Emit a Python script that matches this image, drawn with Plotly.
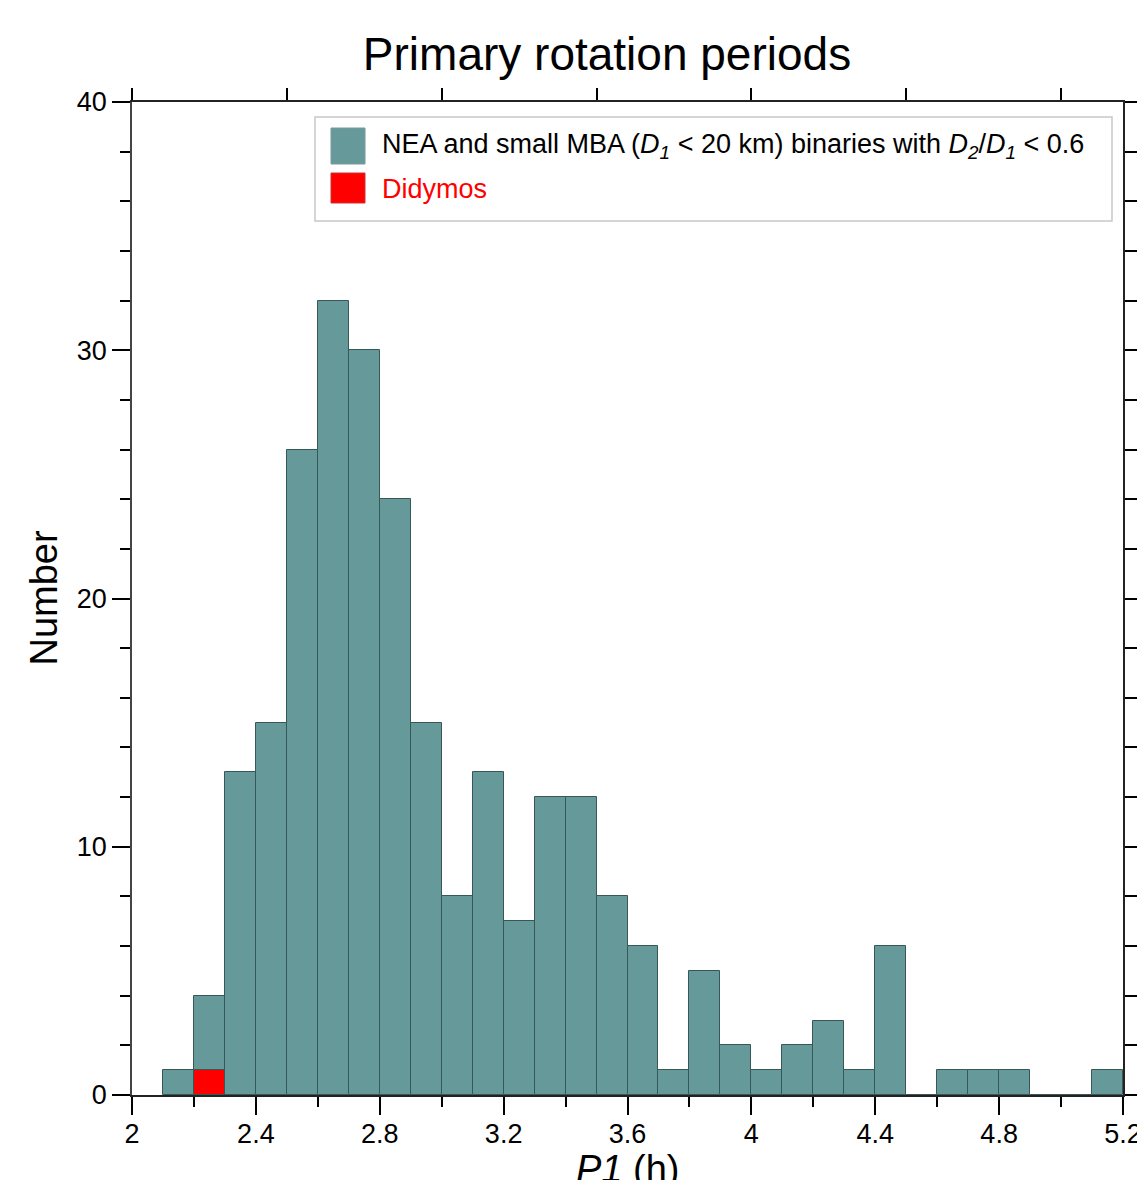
import plotly.graph_objects as go

# Histogram data (bin width 0.1 h)
bin_left = [2.1, 2.2, 2.3, 2.4, 2.5, 2.6, 2.7, 2.8, 2.9, 3.0, 3.1, 3.2, 3.3, 3.4, 3.5,
            3.6, 3.7, 3.8, 3.9, 4.0, 4.1, 4.2, 4.3, 4.4, 4.5, 4.6, 4.7, 4.8, 4.9, 5.0, 5.1]
counts = [1, 4, 13, 15, 26, 32, 30, 24, 15, 8, 13, 7, 12, 12, 8,
          6, 1, 5, 2, 1, 2, 3, 1, 6, 0, 1, 1, 1, 0, 0, 1]
bin_width = 0.1
didymos_left = [2.2]
didymos_counts = [1]

x_tickvals = [2, 2.4, 2.8, 3.2, 3.6, 4, 4.4, 4.8, 5.2]
x_ticktext = ["2", "2.4", "2.8", "3.2", "3.6", "4", "4.4", "4.8", "5.2"]
y_tickvals = [0, 10, 20, 30, 40]

teal = "#669999"
edge = "#385858"
FONT = "Liberation Sans, Arial, sans-serif"

fig = go.Figure()
fig.add_trace(go.Bar(
    x=[b + bin_width / 2 for b in bin_left], y=counts, width=bin_width,
    marker=dict(color=teal, line=dict(color=edge, width=1)),
    showlegend=False, hoverinfo="skip"))
fig.add_trace(go.Bar(
    x=[b + bin_width / 2 for b in didymos_left], y=didymos_counts, width=bin_width,
    marker=dict(color="#ff0000", line=dict(color=edge, width=1)),
    showlegend=False, hoverinfo="skip"))
# invisible helper so the mirror axes are drawn
fig.add_trace(go.Scatter(x=[None], y=[None], xaxis="x2", yaxis="y2",
                         showlegend=False, hoverinfo="skip"))

W, H = 1137, 1180
L, R, T, B = 132, 14, 102, 85

fig.update_layout(
    width=W, height=H, autosize=False,
    margin=dict(l=L, r=R, t=T, b=B, pad=0, autoexpand=False),
    plot_bgcolor="white", paper_bgcolor="white",
    barmode="overlay", bargap=0,
    font=dict(family=FONT, color="black", size=27),
    title=dict(text="Primary rotation periods", x=607 / W, xanchor="center",
               y=1 - 54 / H, yanchor="middle", font=dict(size=46, family=FONT),
               automargin=False),
    xaxis=dict(range=[2, 5.2], tickvals=x_tickvals, ticktext=x_ticktext,
               ticks="outside", ticklen=18, tickwidth=1.5, tickcolor="black",
               showline=True, linecolor="#222", linewidth=1.5, showgrid=False,
               zeroline=False, tickfont=dict(size=27), automargin=False,
               ticklabeloverflow="allow", ticklabelstandoff=-4,
               minor=dict(tick0=2, dtick=0.2, ticks="outside", ticklen=10,
                          tickwidth=1.5, tickcolor="black", showgrid=False)),
    xaxis2=dict(range=[2, 5.2], overlaying="x", side="top", tick0=2, dtick=0.5,
                ticks="outside", ticklen=12, tickwidth=1.5, tickcolor="black",
                showticklabels=False, showline=True, linecolor="#222",
                linewidth=1.5, showgrid=False, zeroline=False, automargin=False),
    yaxis=dict(range=[0, 40], tickvals=y_tickvals, ticks="outside", ticklen=18,
               tickwidth=1.5, tickcolor="black", showline=True, linecolor="#444",
               linewidth=1.5, showgrid=False, zeroline=False, tickfont=dict(size=27),
               automargin=False, ticklabeloverflow="allow",
               minor=dict(tick0=0, dtick=2, ticks="outside", ticklen=10,
                          tickwidth=1.5, tickcolor="black", showgrid=False)),
    yaxis2=dict(range=[0, 40], overlaying="y", side="right", tick0=0, dtick=2,
                ticks="outside", ticklen=12, tickwidth=1.5, tickcolor="black",
                showticklabels=False, showline=True, linecolor="#222",
                linewidth=1.5, showgrid=False, zeroline=False, automargin=False),
)

# Axis titles
fig.add_annotation(text="Number", xref="paper", yref="paper", x=0, y=0.5,
                   xanchor="center", yanchor="middle", xshift=-89, textangle=-90,
                   showarrow=False, font=dict(size=38, family=FONT))
fig.add_annotation(text="<i>P1</i> (h)", xref="paper", yref="paper", x=0.5, y=0,
                   xanchor="center", yanchor="middle", yshift=-74,
                   showarrow=False, font=dict(size=38, family=FONT))

# Custom legend
pw = W - L - R
ph = H - T - B
def px(xp):
    return (xp - L) / pw
def py(yp):
    return (H - B - yp) / ph

fig.add_shape(type="rect", xref="paper", yref="paper",
              x0=px(315), x1=px(1112), y0=py(221), y1=py(117),
              line=dict(color="#c8c8c8", width=1.5), fillcolor="white", layer="above")
fig.add_shape(type="rect", xref="paper", yref="paper",
              x0=px(331), x1=px(365), y0=py(164), y1=py(128),
              line=dict(color="#7a9a9a", width=1), fillcolor=teal, layer="above")
fig.add_shape(type="rect", xref="paper", yref="paper",
              x0=px(331), x1=px(365), y0=py(203), y1=py(173),
              line=dict(color="#cc3333", width=1), fillcolor="#ff0000", layer="above")
fig.add_annotation(
    text="NEA and small MBA (<i>D<sub>1</sub></i> &lt; 20 km) binaries with "
         "<i>D<sub>2</sub></i>/<i>D<sub>1</sub></i> &lt; 0.6",
    xref="paper", yref="paper", x=px(380), y=py(146), xanchor="left",
    yanchor="middle", showarrow=False, font=dict(size=27, family=FONT, color="black"))
fig.add_annotation(
    text="Didymos", xref="paper", yref="paper", x=px(380), y=py(189),
    xanchor="left", yanchor="middle", showarrow=False,
    font=dict(size=27, family=FONT, color="#ff0000"))

fig.write_html("out.html",
               config=dict(displayModeBar=False, responsive=False),
               post_script="document.body.style.margin='0';"
                           "document.body.style.overflow='hidden';")
